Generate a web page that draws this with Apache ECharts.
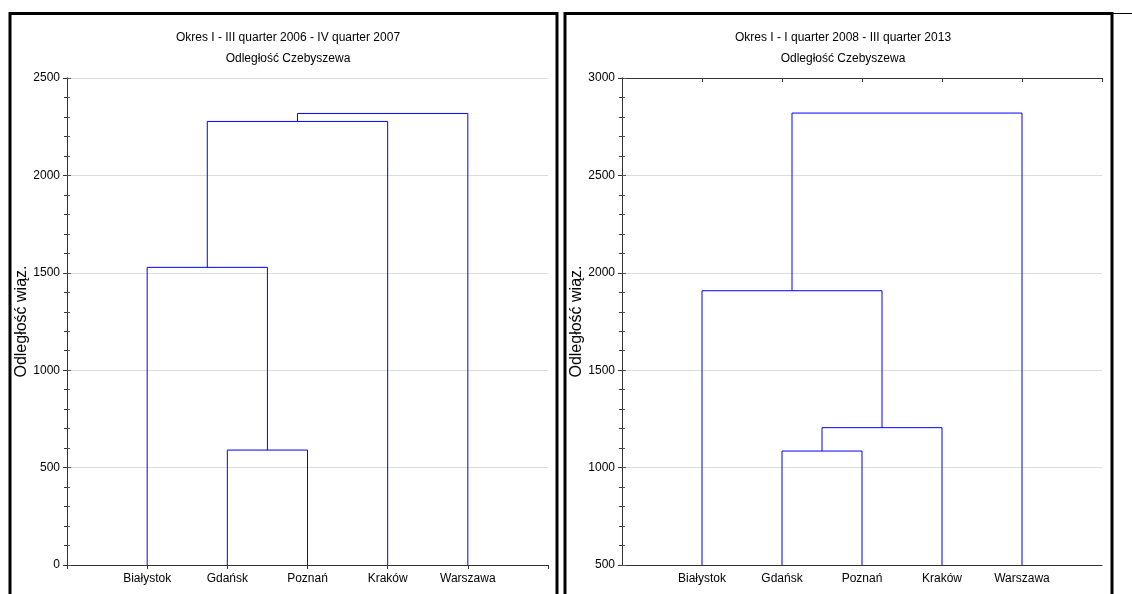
<!DOCTYPE html>
<html>
<head>
<meta charset="utf-8">
<script src="https://cdn.jsdelivr.net/npm/echarts@6/dist/echarts.min.js"></script>
<style>html,body{margin:0;padding:0;background:#fff}#c{width:1132px;height:594px}</style>
</head>
<body>
<div id="c"></div>
<script>
// ---- data ----
const categories = ['Białystok', 'Gdańsk', 'Poznań', 'Kraków', 'Warszawa'];
const titleLeft = 'Okres I - III quarter 2006 - IV quarter 2007';
const titleRight = 'Okres I - I quarter 2008 - III quarter 2013';
const subtitle = 'Odległość Czebyszewa';
const yName = 'Odległość wiąz.';
// merges: [leftChild, rightChild, height]; leaf = category index (0-based), 'mN' = N-th merge
const mergesLeft = [[1, 2, 590], [0, 'm0', 1528], ['m1', 3, 2277], ['m2', 4, 2318]];
const mergesRight = [[1, 2, 1085], ['m0', 3, 1205], [0, 'm1', 1908], ['m2', 4, 2820]];
const yLeft = { min: 0, max: 2500, interval: 500 };
const yRight = { min: 500, max: 3000, interval: 500 };

// ---- build dendrogram link polylines in data space ----
function buildLinks(merges, base) {
  const nodes = {};
  const get = (c) => typeof c === 'number' ? { x: c + 1, h: base } : nodes[c];
  const out = [];
  merges.forEach((m, i) => {
    const a = get(m[0]), b = get(m[1]);
    out.push([[a.x, a.h], [a.x, m[2]], [b.x, m[2]], [b.x, b.h]]);
    nodes['m' + i] = { x: (a.x + b.x) / 2, h: m[2] };
  });
  return out;
}

const FONT = '"Liberation Sans", Arial, sans-serif';
const axisCol = '#333';

function makeAxes(gi, yr, plotWidth) {
  const xAxes = [
    { gridIndex: gi, type: 'value', min: 0, max: categories.length + 1, interval: 1, position: 'bottom',
      axisLine: { lineStyle: { color: axisCol, width: 1 } }, axisTick: { show: false },
      splitLine: { show: false },
      axisLabel: { color: '#000', fontFamily: FONT, fontSize: 12, margin: 8,
        formatter: v => categories[v - 1] || '' } },
    { gridIndex: gi, type: 'value', min: 0, max: categories.length + 1, interval: 1, position: 'top',
      axisLine: { lineStyle: { color: axisCol, width: 1 } },
      axisTick: { show: true, inside: true, length: 4, lineStyle: { color: axisCol } },
      axisLabel: { show: false }, splitLine: { show: false } }
  ];
  const yAxes = [
    // main left axis: labels, name, grid lines
    { gridIndex: gi, type: 'value', min: yr.min, max: yr.max, interval: yr.interval, position: 'left',
      name: yName, nameLocation: 'middle', nameGap: 36, nameRotate: 90,
      nameTextStyle: { color: '#000', fontFamily: FONT, fontSize: 16 },
      axisLine: { show: true, lineStyle: { color: '#555', width: 1 } },
      axisTick: { show: false }, minorTick: { show: false },
      splitLine: { show: true, lineStyle: { color: '#dcdcdc', width: 1 } },
      axisLabel: { color: '#000', fontFamily: FONT, fontSize: 12, margin: 7, formatter: v => String(v) } },
    // right frame axis with inward ticks
    { gridIndex: gi, type: 'value', min: yr.min, max: yr.max, interval: yr.interval, position: 'right',
      axisLine: { show: true, lineStyle: { color: axisCol, width: 1 } },
      axisTick: { show: true, inside: true, length: 4, lineStyle: { color: axisCol } },
      minorTick: { show: true, splitNumber: 5, length: 3, lineStyle: { color: axisCol } },
      splitLine: { show: false }, axisLabel: { show: false } },
    // inward ticks along the left edge (right-type axis shifted onto the left edge)
    { gridIndex: gi, type: 'value', min: yr.min, max: yr.max, interval: yr.interval, position: 'right',
      offset: -plotWidth,
      axisLine: { show: false },
      axisTick: { show: true, inside: false, length: 4, lineStyle: { color: '#555' } },
      minorTick: { show: true, splitNumber: 5, length: 3, lineStyle: { color: '#555' } },
      splitLine: { show: false }, axisLabel: { show: false } }
  ];
  return { xAxes, yAxes };
}

const A = makeAxes(0, yLeft, 481), B = makeAxes(1, yRight, 480);
const series = [];
buildLinks(mergesLeft, yLeft.min).forEach(d => series.push({
  type: 'line', xAxisIndex: 0, yAxisIndex: 0, data: d, symbol: 'none', silent: true,
  lineStyle: { color: '#0000ff', width: 1 }, animation: false }));
buildLinks(mergesRight, yRight.min).forEach(d => series.push({
  type: 'line', xAxisIndex: 2, yAxisIndex: 3, data: d, symbol: 'none', silent: true,
  lineStyle: { color: '#0000ff', width: 1 }, animation: false }));

const titleStyle = { color: '#000', fontFamily: FONT, fontSize: 12, fontWeight: 'normal' };
const option = {
  backgroundColor: '#fff',
  animation: false,
  title: [
    { text: titleLeft, subtext: subtitle, left: 283, top: 27, textAlign: 'center', itemGap: 9,
      textStyle: titleStyle, subtextStyle: titleStyle },
    { text: titleRight, subtext: subtitle, left: 838, top: 27, textAlign: 'center', itemGap: 9,
      textStyle: titleStyle, subtextStyle: titleStyle }
  ],
  grid: [
    { left: 67, right: 1132 - 548, top: 78, bottom: 594 - 565 },
    { left: 622, right: 1132 - 1102, top: 78, bottom: 594 - 565 }
  ],
  xAxis: [...A.xAxes, ...B.xAxes],
  yAxis: [...A.yAxes, ...B.yAxes],
  series,
  graphic: [
    { type: 'rect', shape: { x: 10, y: 13.5, width: 547, height: 600 },
      style: { fill: 'none', stroke: '#000', lineWidth: 3 }, silent: true },
    { type: 'rect', shape: { x: 565, y: 13.5, width: 547, height: 600 },
      style: { fill: 'none', stroke: '#000', lineWidth: 3 }, silent: true },
    { type: 'line', shape: { x1: 1112, y1: 13.5, x2: 1132, y2: 13.5 },
      style: { stroke: '#000', lineWidth: 1 }, silent: true }
  ]
};
const chart = echarts.init(document.getElementById('c'), null, { renderer: 'canvas' });
chart.setOption(option);
</script>
</body>
</html>
